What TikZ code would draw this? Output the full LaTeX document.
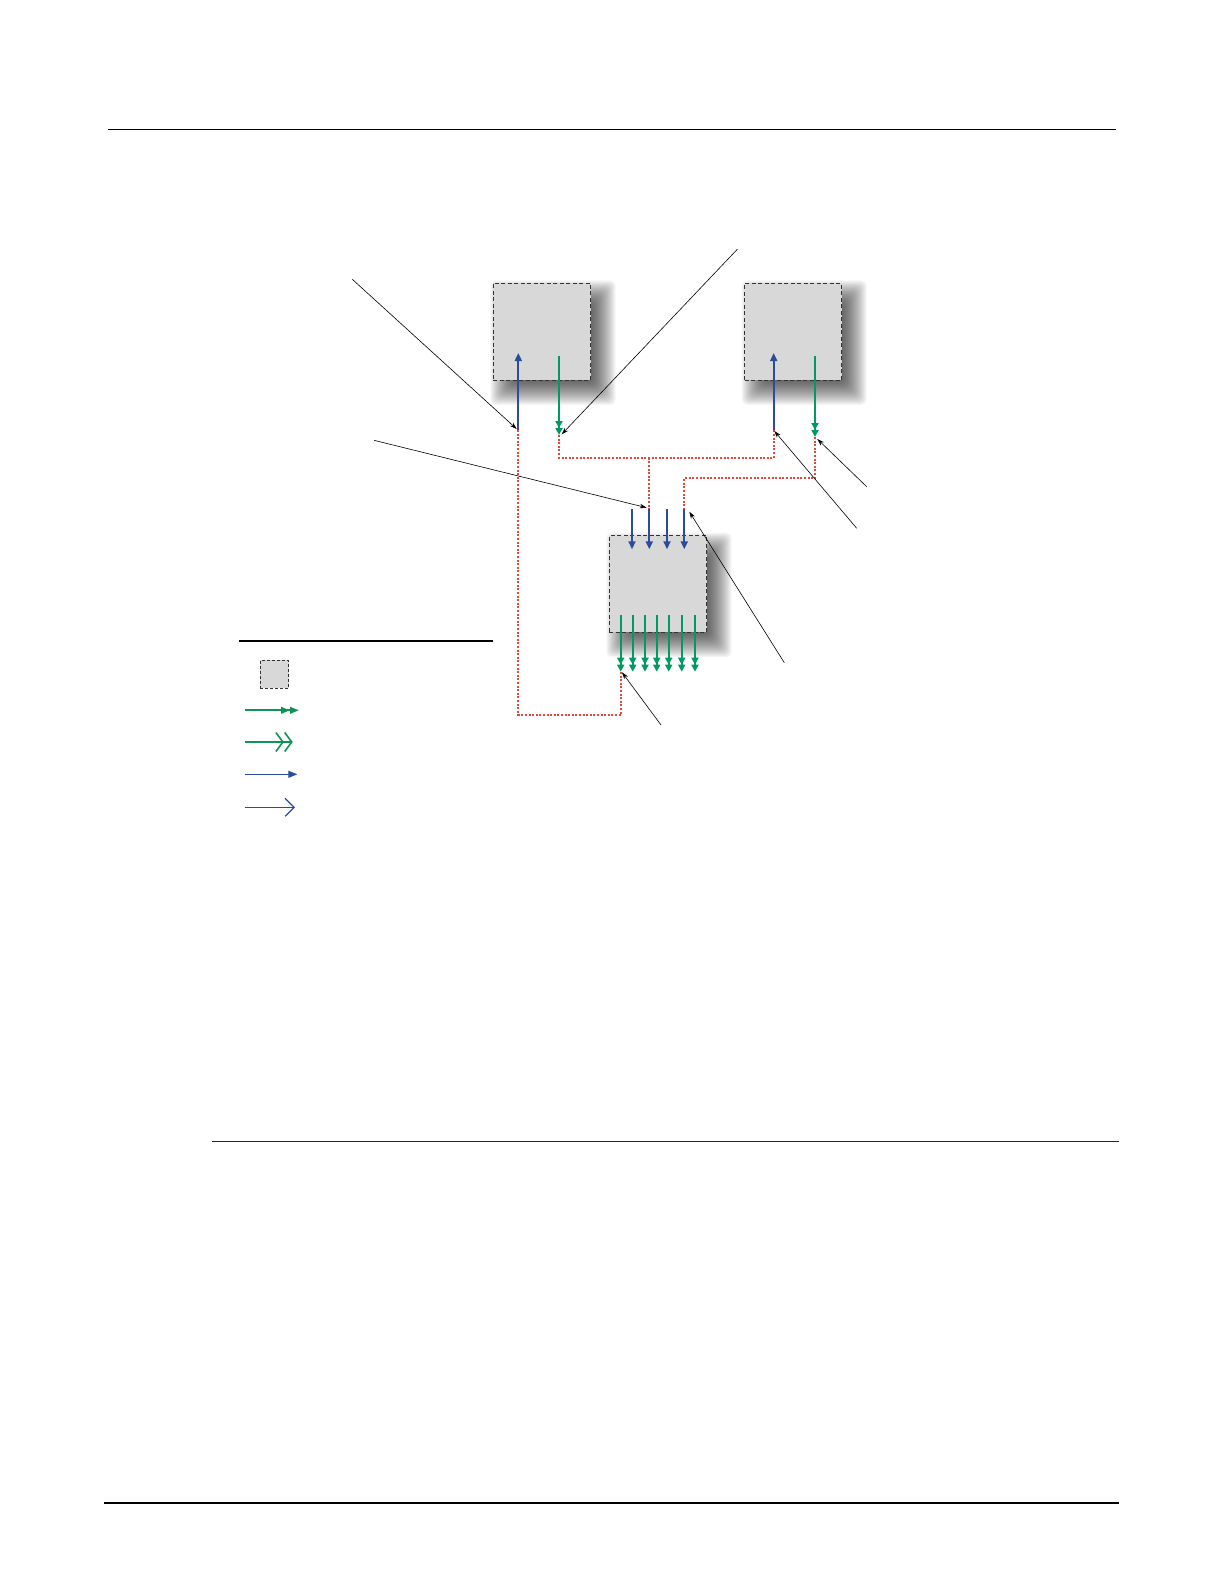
\documentclass[tikz,border=0pt]{standalone}
\usetikzlibrary{arrows.meta}
\definecolor{fblue}{HTML}{2B4C9A}
\definecolor{fgreen}{HTML}{009A62}
\definecolor{lgreen}{HTML}{0E9354}
\definecolor{fred}{HTML}{E2483C}
\definecolor{boxgray}{HTML}{D8D8D8}
\newcommand\blurshadow[4]{%
  \foreach \i in {-14,-13,...,14}{%
    \fill[black,opacity=0.036,rounded corners=5pt]
      ({#1+11-(\i)},{#2+11-(\i)}) rectangle ({#3+11+(\i)},{#4+11+(\i)});}}
\tikzset{
  pbox/.style={draw=black!80,line width=0.8pt,dash pattern=on 4pt off 2.5pt,fill=boxgray,inner sep=0pt},
  bluearr/.style={fblue,line width=1.8pt,-{Triangle[length=8pt,width=7pt]}},
  greenarr/.style={fgreen,line width=1.8pt,-{Triangle[length=7pt,width=7pt]Triangle[length=7pt,width=7pt]}},
  link/.style={fred,line width=1.8pt,dash pattern=on 2pt off 1.6pt},
  leader/.style={black,line width=0.6pt,-{Stealth[length=7pt,width=4.5pt]}},
  rule/.style={black,line width=1.3pt}
}
\begin{document}
\begin{tikzpicture}[x=1pt,y=-1pt]
\useasboundingbox (0,0) rectangle (1224,1584);

% page rules
\coordinate (r1a) at (108,129.5); \coordinate (r1b) at (1116,129.5);
\coordinate (r2a) at (212,1141); \coordinate (r2b) at (1119,1141);
\coordinate (r3a) at (104,1503); \coordinate (r3b) at (1119,1503);
\draw[rule] (r1a) -- (r1b);
\draw[black!85,line width=0.9pt] (r2a) -- (r2b);
\draw[rule,line width=1.6pt] (r3a) -- (r3b);

% shadows
\blurshadow{493.3}{283.3}{590.7}{380}
\blurshadow{744.7}{283.3}{841.7}{380}
\blurshadow{609.3}{535.7}{706.7}{632.3}

% boxes
\node[pbox,minimum width=97.4pt,minimum height=96.7pt] (box1) at (542,331.7) {};
\node[pbox,minimum width=97pt,minimum height=96.7pt] (box2) at (793.2,331.7) {};
\node[pbox,minimum width=97.4pt,minimum height=96.6pt] (box3) at (658,584) {};

% box1 arrows
\coordinate (b1s) at (518.3,430); \coordinate (b1e) at (518.3,353);
\coordinate (g1s) at (559,356);   \coordinate (g1e) at (559,435);
\draw[bluearr] (b1s) -- (b1e);
\draw[greenarr] (g1s) -- (g1e);
% box2 arrows
\coordinate (b2s) at (773.7,430); \coordinate (b2e) at (773.7,353);
\coordinate (g2s) at (815,356);   \coordinate (g2e) at (815,437);
\draw[bluearr] (b2s) -- (b2e);
\draw[greenarr] (g2s) -- (g2e);
% box3 inputs
\foreach \n/\x in {1/632,2/649.3,3/667,4/684.3}{
  \coordinate (in\n s) at (\x,509.3);
  \coordinate (in\n e) at (\x,549.3);
  \draw[bluearr] (in\n s) -- (in\n e);
}
% box3 outputs
\foreach \n/\x in {1/620.7,2/632.7,3/645,4/656.7,5/668.7,6/681.7,7/695}{
  \coordinate (out\n s) at (\x,615);
  \coordinate (out\n e) at (\x,671.7);
  \draw[greenarr] (out\n s) -- (out\n e);
}

% red dotted links
\coordinate (c1) at (518.3,715); \coordinate (c2) at (620.7,715);
\draw[link] (b1s) -- (c1) -- (c2) -- (out1e);
\coordinate (c3) at (559,457.7); \coordinate (c4) at (773.7,457.7); \coordinate (cj) at (649.3,457.7);
\draw[link] (g1e) -- (c3) -- (c4) -- (b2s);
\draw[link] (cj) -- (in2s);
\coordinate (c5) at (815,478.3); \coordinate (c6) at (684.3,478.3);
\draw[link] (g2e) -- (c5) -- (c6) -- (in4s);

% leader lines
\coordinate (l1) at (352.3,279.3); \coordinate (t1) at (516.7,429);
\coordinate (l2) at (737.3,249.3); \coordinate (t2) at (561.7,434.3);
\coordinate (l3) at (374,440.3);   \coordinate (t3) at (646.7,507.7);
\coordinate (l4) at (784.3,662.7); \coordinate (t4) at (689.3,511.7);
\coordinate (l5) at (661,725);     \coordinate (t5) at (622,672.3);
\coordinate (l6) at (856.7,528.3); \coordinate (t6) at (774.3,431);
\coordinate (l7) at (866.7,486.7); \coordinate (t7) at (817.3,439);
\foreach \k in {1,...,7}{\draw[leader] (l\k) -- (t\k);}

% legend
\coordinate (lg1) at (239,641); \coordinate (lg2) at (493,641);
\draw[black,line width=2pt] (lg1) -- (lg2);
\node[pbox,minimum width=28.4pt,minimum height=28pt,line width=0.7pt,dash pattern=on 3pt off 2pt] (legbox) at (274.5,674.3) {};
\coordinate (la1) at (245,710.3); \coordinate (lb1) at (299,710.3);
\draw[lgreen,line width=2pt,-{Triangle[length=9pt,width=6.5pt]Triangle[length=9pt,width=6.5pt]}] (la1) -- (lb1);
\coordinate (la2) at (245,742); \coordinate (lb2) at (292.7,742);
\draw[lgreen,line width=2pt,-{Straight Barb[length=7pt,width=19pt,line width=1.6pt]Straight Barb[length=7pt,width=19pt,line width=1.6pt]}] (la2) -- (lb2);
\coordinate (la3) at (245,774.3); \coordinate (lb3) at (297.3,774.3);
\draw[fblue,line width=1pt,-{Triangle[length=9pt,width=7pt]}] (la3) -- (lb3);
\coordinate (la4) at (245,807.3); \coordinate (lb4) at (295,807.3);
\draw[fblue,line width=1pt,-{Straight Barb[length=9pt,width=18pt,line width=1.2pt]}] (la4) -- (lb4);
\end{tikzpicture}
\end{document}
